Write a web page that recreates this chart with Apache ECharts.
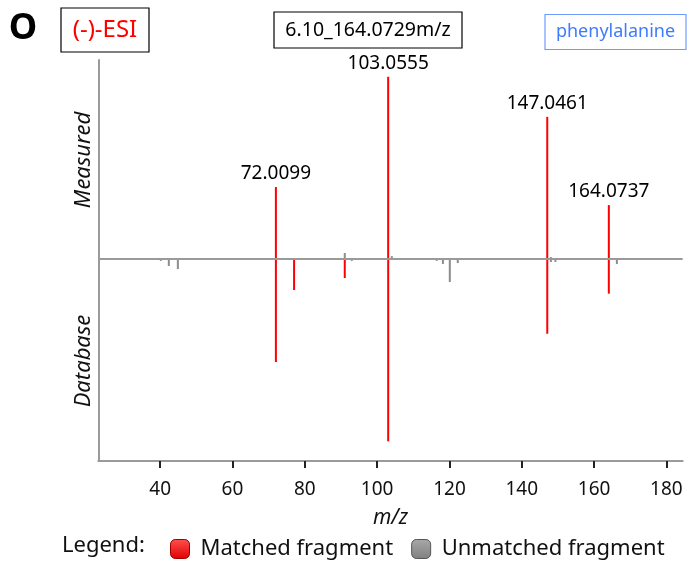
<!DOCTYPE html>
<html>
<head>
<meta charset="utf-8">
<script src="https://cdn.jsdelivr.net/npm/echarts@6/dist/echarts.min.js"></script>
<style>
  html, body { margin: 0; padding: 0; background: #fff; }
  #chart { width: 690px; height: 562px; }
</style>
</head>
<body>
<div id="chart"></div>
<script>
// Mirror MS/MS spectrum: measured fragments above the baseline, database below.
const xTicks = [40, 60, 80, 100, 120, 140, 160, 180];

const measuredMatchedMz = [72.0099, 103.0555, 147.0461, 164.0737];
const measuredMatchedInt = [39.5, 100, 78, 29.6];

const measuredUnmatchedMz = [91.05, 104.06, 148.05];
const measuredUnmatchedInt = [3.3, 1.6, 1.1];

const databaseMatchedMz = [72.01, 77.04, 91.05, 103.06, 147.05, 164.07];
const databaseMatchedInt = [56.5, 17, 10.4, 100, 41, 19];

const databaseUnmatchedMz = [40.2, 42.4, 44.9, 93.0, 116.5, 118.2, 120.1, 122.3, 148.05, 149.3, 166.3];
const databaseUnmatchedInt = [1, 3.8, 5.5, 1, 1, 2.7, 12.6, 2.2, 1.6, 1.6, 2.7];

const RED = '#ff0000';
const GRAY = '#8c8c8c';
const FONT = '"Noto Sans", "Open Sans", sans-serif';

function stickSeries(name, mz, inten, sign, color, withLabel) {
  return {
    type: 'custom',
    name: name,
    itemStyle: { color: color },
    data: mz.map((m, i) => [m, sign * inten[i]]),
    renderItem: function (params, api) {
      const x = api.value(0);
      const y = api.value(1);
      const p0 = api.coord([x, 0]);
      const p1 = api.coord([x, y]);
      const children = [{
        type: 'line',
        shape: { x1: p0[0], y1: p0[1], x2: p1[0], y2: p1[1] },
        style: { stroke: color, lineWidth: 2 }
      }];
      if (withLabel) {
        children.push({
          type: 'text',
          x: p1[0],
          y: p1[1] - 4,
          style: {
            text: x.toFixed(4),
            fill: '#000',
            font: '19px ' + FONT,
            align: 'center',
            verticalAlign: 'bottom'
          }
        });
      }
      return { type: 'group', children: children };
    }
  };
}

function boxedText(cx, cy, w, h, text, color, borderColor, size) {
  return [
    {
      type: 'rect',
      shape: { x: cx - w / 2, y: cy - h / 2, width: w, height: h },
      style: { fill: '#fff', stroke: borderColor, lineWidth: 1.2 }
    },
    {
      type: 'text',
      x: cx, y: cy,
      style: { text: text, fill: color, font: size + 'px ' + FONT, align: 'center', verticalAlign: 'middle' }
    }
  ];
}

// Soft top-to-bottom shading for the legend swatches
function swatch(light, dark) {
  return new echarts.graphic.LinearGradient(0, 0, 0, 1, [
    { offset: 0, color: light },
    { offset: 1, color: dark }
  ]);
}

const chart = echarts.init(document.getElementById('chart'), null, { renderer: 'canvas' });

const option = {
  animation: false,
  backgroundColor: '#fff',
  grid: { left: 98.3, right: 7.3, top: 60, bottom: 101, containLabel: false },
  xAxis: {
    type: 'value',
    min: 22.9,
    max: 184.5,
    splitLine: { show: false },
    axisLine: { show: true, onZero: false, lineStyle: { color: '#9a9a9a', width: 2 } },
    axisTick: { show: true, customValues: xTicks, length: 7, lineStyle: { color: '#222', width: 2 } },
    axisLabel: { customValues: xTicks, color: '#111', fontSize: 19, fontFamily: FONT, margin: 19 }
  },
  yAxis: {
    type: 'value',
    min: -110.8,
    max: 109.2,
    splitLine: { show: false },
    axisLine: { show: true, onZero: false, lineStyle: { color: '#9a9a9a', width: 2 } },
    axisTick: { show: false },
    axisLabel: { show: false }
  },
  legend: {
    left: 165,
    top: 533,
    itemWidth: 19,
    itemHeight: 19,
    itemGap: 18,
    textStyle: { fontSize: 22, fontFamily: FONT, color: '#111', padding: [0, 0, 0, 6] },
    data: [
      { name: 'Matched fragment', icon: 'roundRect', itemStyle: { color: swatch('#ff5050', '#e00000'), borderColor: '#a00000', borderWidth: 1 } },
      { name: 'Unmatched fragment', icon: 'roundRect', itemStyle: { color: swatch('#a8a8a8', '#808080'), borderColor: '#555', borderWidth: 1 } }
    ]
  },
  series: [
    Object.assign(stickSeries('Unmatched fragment', databaseUnmatchedMz, databaseUnmatchedInt, -1, GRAY, false), {
      markLine: {
        silent: true,
        symbol: 'none',
        label: { show: false },
        lineStyle: { color: '#9a9a9a', width: 2, type: 'solid' },
        data: [{ yAxis: 0 }]
      }
    }),
    stickSeries('Unmatched fragment', measuredUnmatchedMz, measuredUnmatchedInt, 1, GRAY, false),
    stickSeries('Matched fragment', databaseMatchedMz, databaseMatchedInt, -1, RED, false),
    stickSeries('Matched fragment', measuredMatchedMz, measuredMatchedInt, 1, RED, true)
  ],
  graphic: [
    { type: 'text', x: 23, y: 29, style: { text: 'O', fill: '#000', font: 'bold 36px ' + FONT, align: 'center', verticalAlign: 'middle' } },
    ...boxedText(105, 30, 88, 44, '(-)-ESI', '#ff0000', '#000', 24),
    ...boxedText(368, 30, 188, 36, '6.10_164.0729m/z', '#000', '#000', 19.5),
    ...boxedText(615.5, 32, 141, 35, 'phenylalanine', '#3d7bff', '#6f9bff', 18),
    { type: 'text', x: 84, y: 160, rotation: Math.PI / 2, style: { text: 'Measured', fill: '#111', font: 'italic 22px ' + FONT, align: 'center', verticalAlign: 'middle' } },
    { type: 'text', x: 84, y: 361, rotation: Math.PI / 2, style: { text: 'Database', fill: '#111', font: 'italic 22px ' + FONT, align: 'center', verticalAlign: 'middle' } },
    { type: 'text', x: 390.5, y: 518, style: { text: 'm/z', fill: '#111', font: 'italic 21px ' + FONT, align: 'center', verticalAlign: 'middle' } },
    { type: 'text', x: 62, y: 546, style: { text: 'Legend:', fill: '#111', font: '22px ' + FONT, align: 'left', verticalAlign: 'middle' } }
  ]
};

chart.setOption(option);
</script>
</body>
</html>
